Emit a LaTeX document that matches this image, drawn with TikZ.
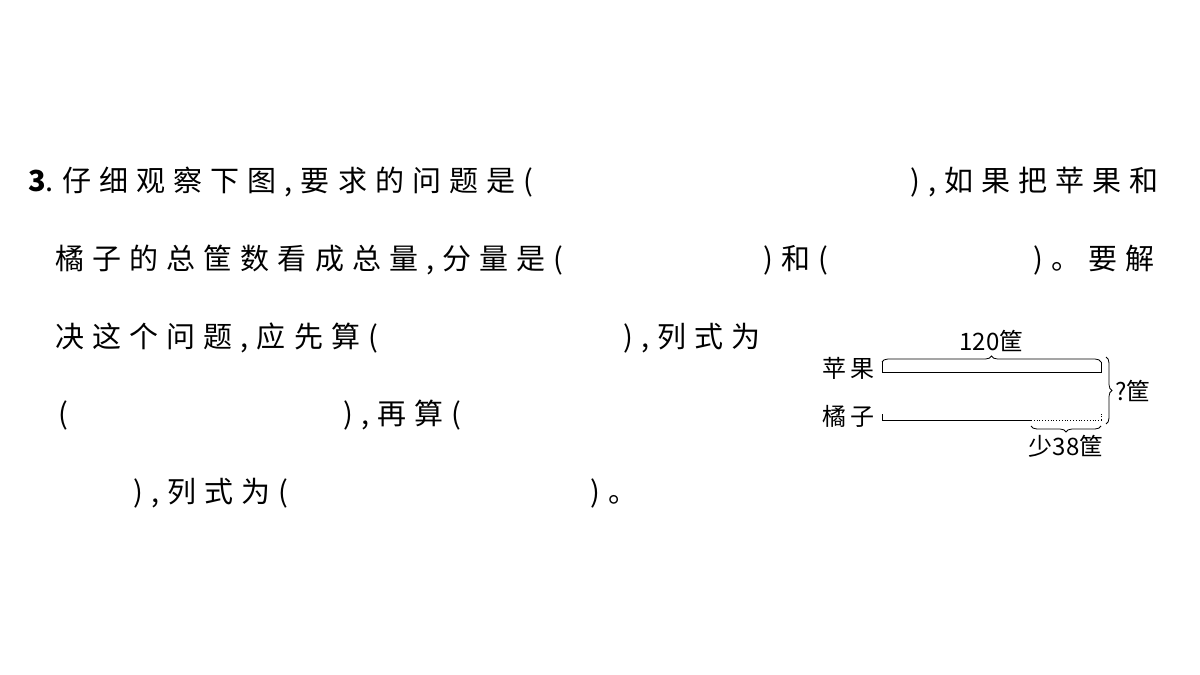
\documentclass[tikz,border=0pt]{standalone}
\usepackage{fontspec}
\setmainfont{Noto Sans CJK SC}
\newfontfamily\mt[LetterSpace=28]{Noto Sans CJK SC}
\newfontfamily\dg{Noto Sans CJK SC}[Scale=1]
\usetikzlibrary{decorations.pathreplacing}
\begin{document}
\begin{tikzpicture}[x=1pt,y=-1pt,
  tx/.style={anchor=west,inner sep=0pt,font=\fontsize{29}{30}\mt},
  dl/.style={inner sep=0pt,font=\fontsize{24}{26}\dg},
  br/.style={decorate,decoration={brace,amplitude=6pt},line width=0.8pt}]
\useasboundingbox[fill=white] (0,0) rectangle (1200,675);
\node[tx] (l1a) at (28,182) {\textbf{3}.仔细观察下图,要求的问题是(};
\node[tx] (l1b) at (910,182) {),如果把苹果和};
\node[tx] (l2a) at (55,260) {橘子的总筐数看成总量,分量是(};
\node[tx] (l2b) at (763,260) {)和(};
\node[tx] (l2c) at (1033,260) {)。要解};
\node[tx] (l3a) at (55,338) {决这个问题,应先算(};
\node[tx] (l3b) at (623,338) {),列式为};
\node[tx] (l4a) at (58,415) {(};
\node[tx] (l4b) at (343,415) {),再算(};
\node[tx] (l5a) at (133,493) {),列式为(};
\node[tx] (l5b) at (590,493) {)。};
% diagram
\coordinate (a0) at (882,372); \coordinate (a1) at (1101,372);
\coordinate (o0) at (882,420); \coordinate (om) at (1031,420); \coordinate (o1) at (1101,420);
\draw[line width=0.8pt] (882,362) -- (a0) -- (a1) -- (1101,362);
\draw[line width=0.8pt] (882,414) -- (o0) -- (om);
\draw[line width=0.8pt,dotted] (om) -- (o1) -- (1101,414);
\draw[br] (882,362) -- (1101,362) node[midway,above=10pt,dl] (t1) {120筐};
\draw[br] (1101,426) -- (1031,426) node[midway,below=9pt,dl] (t2) {少38筐};
\draw[br] (1106,357) -- (1106,424) node[midway,right=9pt,dl] (t3) {?筐};
\node[dl,anchor=east] (ap) at (875,368) {苹\,果};
\node[dl,anchor=east] (or) at (875,416) {橘\,子};
\end{tikzpicture}
\end{document}
